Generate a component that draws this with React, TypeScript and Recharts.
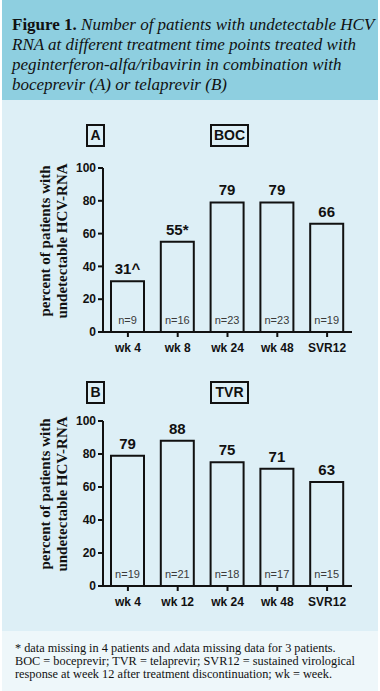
import React from 'react'
import { BarChart, Bar, XAxis, YAxis, LabelList } from 'recharts'

const catsA = ['wk 4', 'wk 8', 'wk 24', 'wk 48', 'SVR12']
const valsA = [31, 55, 79, 79, 66]
const marksA = ['^', '*', '', '', '']
const nA = [9, 16, 23, 23, 19]

const catsB = ['wk 4', 'wk 12', 'wk 24', 'wk 48', 'SVR12']
const valsB = [79, 88, 75, 71, 63]
const marksB = ['', '', '', '', '']
const nB = [19, 21, 18, 17, 15]

const yTicks = [0, 20, 40, 60, 80, 100]

const sans = '"Liberation Sans", Arial, sans-serif'
const serif = '"Liberation Serif", "Times New Roman", serif'

function build(cats: string[], vals: number[], marks: string[], ns: number[]) {
  return cats.map((c, i) => ({ cat: c, value: vals[i], label: `${vals[i]}${marks[i]}`, n: `n=${ns[i]}` }))
}

const NLabel = (props: any) => {
  const { x, y, width, height, value } = props
  return (
    <text x={x + width / 2} y={y + height - 8} textAnchor="middle" fontFamily={sans} fontSize={11} fill="#3a3a3a">
      {value}
    </text>
  )
}

function Panel({ data, top, height, cy }: { data: any[]; top: number; height: number; cy: number }) {
  return (
    <div style={{ position: 'absolute', left: 0, top }}>
      <BarChart width={380} height={height} data={data} margin={{ top: 58, right: 28, bottom: 0, left: 0 }}>
        <XAxis
          dataKey="cat"
          height={28}
          axisLine={{ stroke: '#111', strokeWidth: 2 }}
          tickLine={{ stroke: '#111', strokeWidth: 2 }}
          tickSize={5}
          tickMargin={6}
          tick={{ fill: '#111', fontSize: 12, fontWeight: 'bold', fontFamily: sans }}
        />
        <YAxis
          width={103}
          domain={[0, 100]}
          ticks={yTicks}
          axisLine={{ stroke: '#111', strokeWidth: 2 }}
          tickLine={{ stroke: '#111', strokeWidth: 2 }}
          tickSize={5}
          tick={{ fill: '#111', fontSize: 12, fontWeight: 'bold', fontFamily: sans }}
        />
        <Bar dataKey="value" fill="none" stroke="#111" strokeWidth={2} barSize={33} isAnimationActive={false}>
          <LabelList dataKey="label" position="top" offset={7} fill="#111" fontSize={15} fontWeight="bold" fontFamily={sans} />
          <LabelList dataKey="n" content={NLabel} />
        </Bar>
      </BarChart>
      <svg width={80} height={height} style={{ position: 'absolute', left: 0, top: 0 }}>
        <text
          transform={`translate(50 ${cy}) rotate(-90)`}
          textAnchor="middle"
          fontFamily={serif}
          fontWeight="bold"
          fontSize={15}
          fill="#111"
        >
          percent of patients with
        </text>
        <text
          transform={`translate(67 ${cy}) rotate(-90)`}
          textAnchor="middle"
          fontFamily={serif}
          fontWeight="bold"
          fontSize={15}
          fill="#111"
        >
          undetectable HCV-RNA
        </text>
      </svg>
    </div>
  )
}

const boxStyle = (left: number, top: number, width: number): React.CSSProperties => ({
  position: 'absolute',
  left,
  top,
  width,
  height: 19,
  border: '2px solid #111',
  fontFamily: sans,
  fontWeight: 'bold',
  fontSize: 14,
  lineHeight: '19px',
  textAlign: 'center',
  color: '#111',
})

export default function App() {
  const dataA = build(catsA, valsA, marksA, nA)
  const dataB = build(catsB, valsB, marksB, nB)
  return (
    <div style={{ position: 'absolute', left: 0, top: 0, width: 380, height: 691, background: '#fff', overflow: 'hidden' }}>
      <div
        style={{
          position: 'absolute',
          left: 2,
          top: 0,
          width: 376,
          height: 100,
          background: '#8ecfe0',
          fontFamily: serif,
          fontSize: 17,
          lineHeight: '20px',
          color: '#111',
          padding: '15px 0 0 10px',
          boxSizing: 'border-box',
          whiteSpace: 'nowrap',
        }}
      >
        <b>Figure 1.</b>
        <i> Number of patients with undetectable HCV</i>
        <br />
        <i>RNA at different treatment time points treated with</i>
        <br />
        <i>peginterferon-alfa/ribavirin in combination with</i>
        <br />
        <i>boceprevir (A) or telaprevir (B)</i>
      </div>
      <div style={{ position: 'absolute', left: 2, top: 100, width: 376, height: 531, background: '#ddeff6' }}>
        <div style={{ position: 'absolute', left: -2, top: 0 }}>
          <div style={{ position: 'relative' }}>
            <Panel data={dataA} top={10} height={250} cy={131} />
            <Panel data={dataB} top={263} height={251} cy={131} />
            <div style={boxStyle(86, 24, 15)}>A</div>
            <div style={boxStyle(210, 24, 35)}>BOC</div>
            <div style={boxStyle(86, 281, 15)}>B</div>
            <div style={boxStyle(210, 281, 35)}>TVR</div>
          </div>
        </div>
      </div>
      <div
        style={{
          position: 'absolute',
          left: 2,
          top: 631,
          width: 376,
          height: 60,
          background: '#eef7fa',
          fontFamily: serif,
          fontSize: 12.3,
          lineHeight: '13px',
          color: '#111',
          padding: '11px 0 0 13px',
          boxSizing: 'border-box',
          whiteSpace: 'nowrap',
        }}
      >
        * data missing in 4 patients and ʌdata missing data for 3 patients.
        <br />
        BOC = boceprevir; TVR = telaprevir; SVR12 = sustained virological
        <br />
        response at week 12 after treatment discontinuation; wk = week.
      </div>
    </div>
  )
}
